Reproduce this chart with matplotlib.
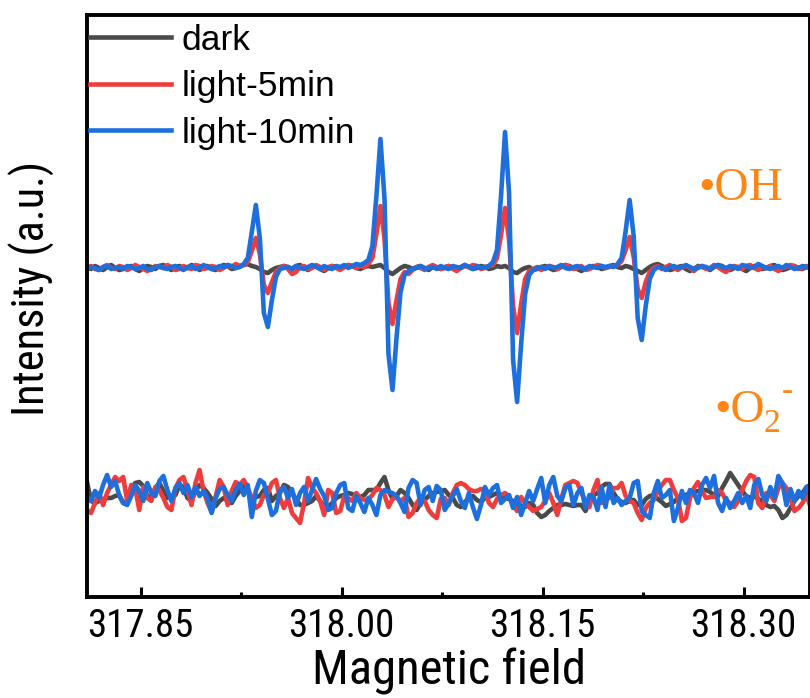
import numpy as np
import matplotlib
matplotlib.use("Agg")
import matplotlib.pyplot as plt

# field grid (mT), one point every 0.003
field = np.round(317.81 + 0.003 * np.arange(181), 4)

# upper spectra (DMPO-OH), deviation from baseline
oh_dark = [1, -1, 2, 0, -2, 1, 3, 0, -2, -1,
           1, 2, -1, -3, 0, 2, 1, -1, 2, 3,
           0, -2, 1, 2, -1, 0, 3, 1, -2, 0,
           2, -1, -2, 1, 3, 2, -1, 0, 2, 3,
           4, 2, 1, -1, -4, -5, -2, 0, 1, 2,
           1, -1, 2, 3, 0, -2, 1, 2, -1, -3,
           0, 2, 1, -1, 1, 3, 2, 0, -1, 1,
           2, 1, 2, 3, 0, -4, -6, -3, 0, 2,
           1, -1, 1, 2, 0, -2, 1, 0, -1, 1,
           2, 0, -2, 1, 3, 1, -1, 0, 2, 1,
           -1, 0, 2, 1, 2, 0, -4, -5, -2, 0,
           1, -2, -1, 1, 2, 0, -2, -1, 1, 3,
           2, 0, -1, -3, 0, 1, 2, 1, -1, 0,
           2, 3, 1, 0, 2, 1, -1, -3, -5, -2,
           1, 3, 4, 2, 0, -2, -1, 1, 2, -1,
           -3, -1, 2, 1, 0, -2, 1, 3, 2, -1,
           -2, 0, 1, -1, -3, 0, 2, 1, -1, 0,
           2, 3, 0, -2, -1, 1, 2, 0, -1, 1,
           0]
oh_5min = [0, 2, -1, -2, 1, 3, 0, -1, 2, 1,
           -2, 0, 3, 1, -1, -3, -1, 2, 1, 0,
           3, 1, -2, -1, 2, 0, -1, 3, 2, -1,
           0, 2, 1, -2, 0, 3, 1, 4, 2, 3,
           6, 17, 30, 14, -17, -25, -14, -4, 0, 2,
           -1, -6, -4, 1, 2, -1, 0, 3, 1, -2,
           1, 2, 0, -2, 1, 3, 2, 0, 2, 1,
           4, 10, 34, 62, 30, -35, -56, -32, -11, -4,
           -6, -2, 1, 0, -2, 1, 3, 1, -1, 0,
           2, -1, -3, 0, 2, 1, 3, 2, -1, 0,
           2, 3, 10, 33, 60, 28, -38, -65, -36, -11,
           -3, -1, 1, -2, 0, 2, 1, -1, 2, 3,
           1, -1, 0, 2, -2, -1, 1, 3, 2, 0,
           1, 2, 3, 7, 18, 31, 11, -21, -30, -14,
           -4, 0, 2, -1, 1, 3, 0, -2, 1, 2,
           0, -3, 1, 2, -1, 0, 3, 1, -2, -4,
           0, 2, 1, -1, 2, 3, 0, -2, 1, 0,
           2, -1, -3, 0, 1, 3, 2, -1, 0, 2,
           1]
oh_10min = [-1, 1, 0, -2, 1, 2, -1, 0, 1, -1,
            2, 1, -1, 0, 2, -1, -2, 1, 2, 0,
            -1, 1, 2, 0, -2, 1, 2, -1, 0, 3,
            1, -1, 0, 2, 1, 3, 2, 0, 1, 4,
            10, 36, 63, 30, -45, -59, -32, -9, -1, 0,
            1, -1, 2, 0, -1, 1, 3, 1, -1, 2,
            0, -1, 2, 1, 3, 0, 2, 4, 3, 5,
            8, 22, 72, 129, 70, -86, -122, -70, -24, -7,
            -3, -1, 0, 2, -1, 0, 1, -1, 2, 0,
            -1, 2, 1, 0, 3, 1, -1, 2, 0, 1,
            2, 6, 18, 72, 136, 75, -92, -134, -76, -26,
            -7, -2, 0, 1, -1, 2, 0, 1, 3, 0,
            -1, 1, 2, 0, -1, 2, 1, 0, 2, 1,
            2, 1, 4, 10, 37, 68, 32, -50, -72, -38,
            -11, -2, 1, 0, -2, 1, 2, 0, 1, 3,
            1, -1, 0, 2, 1, -1, 2, 3, 1, 0,
            2, 1, -1, 3, 2, 0, 1, 4, 2, 0,
            -1, 1, 2, 0, 3, 1, -1, 0, 2, 1,
            0]

# lower spectra (DMPO-O2-), deviation from baseline
o2_dark = [11, -8, -10, -8, -6, -5, -5, -3, -2, -10,
           -8, 5, 10, 11, 7, -3, -5, 5, 10, 2,
           -5, -3, -2, 8, 6, -5, -8, 2, 8, 5,
           0, -6, -13, -8, -5, -8, -10, -3, 2, 7,
           3, -6, -4, -3, 3, 5, -8, -3, 0, 8,
           6, 0, -6, -12, -12, -10, -8, -3, -8, -14,
           -14, -10, -5, -3, -2, 0, -1, -5, -4, -2,
           3, 3, 3, 10, 16, 3, -6, -3, 3, 0,
           -5, -12, -17, -10, -7, -3, 0, 1, 2, 3,
           -2, -5, -12, -14, -9, -5, -3, -7, -9, -5,
           -4, -2, 0, -3, -5, -6, -8, -9, -13, -14,
           -10, -12, -20, -24, -22, -18, -15, -12, -12, -11,
           -12, -13, -12, -12, -18, -8, -2, 0, 6, 9,
           9, 0, -6, -9, -10, -8, -7, -12, -12, -6,
           -3, -2, -6, -9, -13, -11, -9, -5, -3, -2,
           0, 1, 2, 3, 3, 1, -2, -3, 5, 12,
           20, 14, 8, 2, -3, -5, -3, -6, -8, -12,
           -14, -13, -17, -25, -22, -15, -8, -3, 0, 6,
           8]
o2_5min = [-17, -20, -10, 0, -12, 0, 8, 16, 12, 16,
           -8, 8, 5, -17, 6, -5, -8, 6, 3, -5,
           -14, -17, 5, 13, 16, 3, -12, 10, 23, 2,
           -10, -19, -4, 13, 6, -12, 2, 11, 8, 13,
           5, -5, -15, -12, -2, 0, 10, 13, -5, -15,
           -5, -20, -25, -30, -10, 15, 5, 0, -8, -22,
           3, 0, -20, -18, -3, -5, -8, 0, -5, -7,
           -6, -2, 5, 3, -2, -14, -6, -4, -8, -5,
           -24, -20, -10, -5, -8, -17, -22, -25, -6, -5,
           -12, 0, 8, 10, 8, 4, 2, 2, 4, 3,
           -10, -14, -6, -2, 0, -4, -12, -18, -4, -10,
           -14, -18, -16, -14, -8, 0, -10, -22, -6, 8,
           10, 12, 10, 0, -8, -14, 3, 13, -10, -5,
           -5, 5, 5, 10, -3, -8, -10, -20, -27, -15,
           -10, -7, 2, 8, 13, 13, 3, -5, -28, -25,
           -5, 5, 11, 2, -5, -4, -4, 3, 0, -8,
           -10, -14, -8, 3, 12, 18, 16, -10, -15, 0,
           -2, -8, 5, 10, 5, -5, -18, -15, -10, -2,
           -14]
o2_10min = [-4, -8, 2, -5, 8, 18, 6, 12, -2, -10,
            -12, -3, 8, 2, -8, 10, 0, -3, 12, 17,
            3, -8, 5, 10, 0, 8, -4, 6, -3, 2,
            -6, -20, -5, 4, 6, -2, -8, 3, 9, -2,
            8, -24, 2, 13, 10, -6, -22, -18, 2, 6,
            -5, 4, -12, 0, 6, -8, 3, 14, 4, -3,
            -17, -15, 0, 8, 10, -15, -18, -3, -10, -19,
            -5, -12, -22, -2, 3, 1, 0, -3, -10, -19,
            5, 13, 10, -12, 3, 6, -8, 7, 3, -17,
            -10, -3, 4, -8, -15, 0, -14, -26, -12, 6,
            -2, 5, 8, -10, -6, -2, -15, -4, -22, -10,
            2, -8, 4, 15, -10, 8, 16, -3, -8, 5,
            8, -12, 0, 5, -15, -2, -4, -17, 6, -14,
            8, -10, -5, -12, -8, -5, 10, 12, -18, -22,
            -25, 0, 12, -5, -2, 3, -28, -15, 2, -10,
            3, 0, -10, 8, 15, 5, 17, -10, -18, -5,
            -15, -8, 0, -10, -3, -15, 8, 14, -2, -8,
            6, -5, 17, 10, -12, 4, -8, 2, -5, 6,
            -4]

labels = ["dark", "light-5min", "light-10min"]
colors = ["#4a4a4a", "#ef3d3d", "#1c6fdd"]
oh_offset = 225
narrow = "Roboto Condensed"

fig = plt.figure(figsize=(8.1, 6.98), dpi=100)
ax = fig.add_axes([87 / 810, 1 - 597 / 698, 723 / 810, 582 / 698])

for lab, col, lo, up in zip(labels, colors, [o2_dark, o2_5min, o2_10min],
                            [oh_dark, oh_5min, oh_10min]):
    ax.plot(field, np.array(up) + oh_offset, color=col, lw=3.3, label=lab,
            solid_joinstyle="round")
    ax.plot(field, lo, color=col, lw=3.3, solid_joinstyle="round")

ax.set_xlim(317.81, 318.3496)
ax.set_ylim(-104, 478)
ax.set_xticks([317.85, 318.00, 318.15, 318.30])
ax.set_xticks([317.925, 318.075, 318.225], minor=True)
ax.set_xticklabels(["317.85", "318.00", "318.15", "318.30"],
                   fontfamily=narrow, fontsize=28)
ax.set_yticks([])
ax.tick_params(axis="x", which="major", direction="in", length=7, width=2.2, pad=8)
ax.tick_params(axis="x", which="minor", direction="in", length=3.5, width=2.2)
for s in ax.spines.values():
    s.set_linewidth(2.8)

ax.set_xlabel("Magnetic field", fontfamily=narrow, fontsize=35, labelpad=2)
ax.set_ylabel("Intensity (a.u.)", fontfamily=narrow, fontsize=32)
ax.yaxis.set_label_coords(-0.044, 0.53)

leg = ax.legend(loc="upper left", bbox_to_anchor=(0.004, 0.985), frameon=False,
                prop={"family": "Liberation Sans", "size": 25.5},
                handlelength=2.3, handletextpad=0.3, labelspacing=0.38,
                borderpad=0, borderaxespad=0)

orange = "#ff8514"
ax.text(0.846, 0.682, "\u2022OH", transform=ax.transAxes, color=orange,
        fontfamily="Liberation Serif", fontsize=34, va="baseline")
ax.text(0.868, 0.301, "\u2022O", transform=ax.transAxes, color=orange,
        fontfamily="Liberation Serif", fontsize=34, va="baseline")
ax.text(0.9362, 0.2835, "2", transform=ax.transAxes, color=orange,
        fontfamily="Liberation Serif", fontsize=24, va="baseline")
ax.text(0.961, 0.3385, "-", transform=ax.transAxes, color=orange,
        fontfamily="Liberation Serif", fontsize=24, va="baseline")

fig.savefig("out.png", dpi=100)
